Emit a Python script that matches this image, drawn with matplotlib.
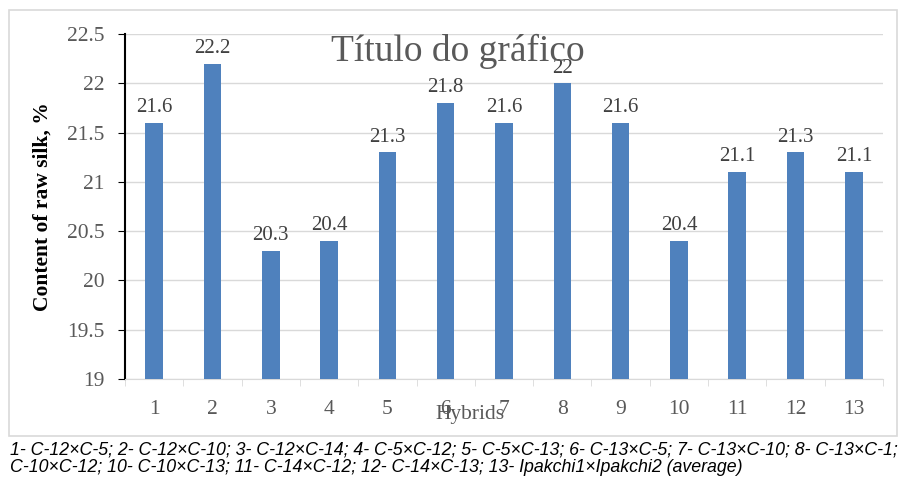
import matplotlib.pyplot as plt
from matplotlib.patches import Rectangle

# Data
hybrids = list(range(1, 14))
silk_content = [21.6, 22.2, 20.3, 20.4, 21.3, 21.8, 21.6, 22.0, 21.6, 20.4, 21.1, 21.3, 21.1]
bar_labels = ['21.6', '22.2', '20.3', '20.4', '21.3', '21.8', '21.6', '22', '21.6', '20.4', '21.1', '21.3', '21.1']
y_ticks = [19, 19.5, 20, 20.5, 21, 21.5, 22, 22.5]
y_tick_labels = ['19', '19.5', '20', '20.5', '21', '21.5', '22', '22.5']
caption = ("1- C-12\u00d7C-5; 2- C-12\u00d7C-10; 3- C-12\u00d7C-14; 4- C-5\u00d7C-12; 5- C-5\u00d7C-13; "
           "6- C-13\u00d7C-5; 7- C-13\u00d7C-10; 8- C-13\u00d7C-1;\n"
           "C-10\u00d7C-12; 10- C-10\u00d7C-13; 11- C-14\u00d7C-12; 12- C-14\u00d7C-13; "
           "13- Ipakchi1\u00d7Ipakchi2 (average)")

serif = 'Liberation Serif'
gray = '#595959'

fig = plt.figure(figsize=(8.98, 4.78), dpi=100)

# outer chart border
fig.patches.append(Rectangle((9 / 898, 1 - 436 / 478), 888 / 898, 426 / 478,
                             transform=fig.transFigure, fill=False,
                             edgecolor='#d9d9d9', linewidth=1.2))

ax = fig.add_axes([125 / 898, 1 - 379 / 478, 758 / 898, 345 / 478])
ax.bar(hybrids, silk_content, width=0.3, color='#4f81bd', zorder=3)

for x, v, lab in zip(hybrids, silk_content, bar_labels):
    ax.annotate(lab, (x, v), xytext=(0, 4), textcoords='offset points',
                ha='center', va='bottom', fontsize=15, family=serif, color='#404040')

ax.set_xlim(0.5, 13.5)
ax.set_ylim(19, 22.5)
ax.set_yticks(y_ticks)
ax.set_yticklabels(y_tick_labels, family=serif, fontsize=15.5, color=gray)
ax.set_xticks(hybrids)
ax.set_xticklabels([str(h) for h in hybrids], family=serif, fontsize=15.5, color=gray)
ax.tick_params(axis='x', length=0, pad=15)
ax.set_xticks([h + 0.5 for h in range(0, 14)], minor=True)
ax.tick_params(axis='x', which='minor', length=5, color='#d9d9d9')
ax.tick_params(axis='y', length=5, color='black', pad=10)

ax.grid(axis='y', color='#d9d9d9', linewidth=1, zorder=0)
for s in ['top', 'right']:
    ax.spines[s].set_visible(False)
ax.spines['bottom'].set_color('#d9d9d9')
ax.spines['left'].set_color('black')
ax.spines['left'].set_linewidth(1.5)

ax.set_ylabel('Content of raw silk, %', family=serif, fontsize=15.5, fontweight='bold', labelpad=10)
fig.text(470 / 898, 1 - 414 / 478, 'Hybrids', family=serif, fontsize=15.5, color=gray,
         ha='center', va='center')
fig.text(458 / 898, 1 - 51 / 478, 'T\u00edtulo do gr\u00e1fico', family=serif, fontsize=27,
         color=gray, ha='center', va='center')

fig.text(10 / 898, 1 - 459 / 478, caption, family='Liberation Sans', style='italic',
         fontsize=12.8, ha='left', va='center', linespacing=1.05)

fig.savefig('out.png', dpi=100)
